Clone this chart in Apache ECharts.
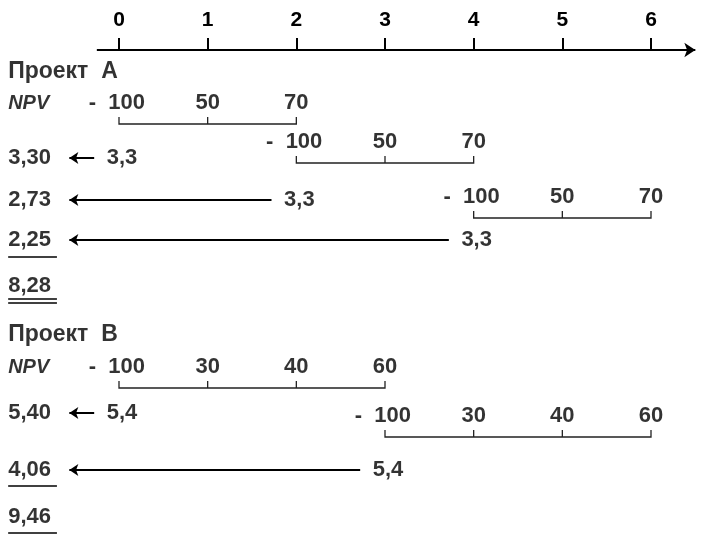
<!DOCTYPE html>
<html>
<head>
<meta charset="utf-8">
<script src="https://cdn.jsdelivr.net/npm/echarts@6/dist/echarts.min.js"></script>
<style>
html,body{margin:0;padding:0;background:#fff;}
#c{width:702px;height:537px;}
</style>
</head>
<body>
<div id="c"></div>
<script>
// ---- data ----
const years = [0, 1, 2, 3, 4, 5, 6];
const cashA = [-100, 50, 70];          // project A cash flows (one cycle)
const startsA = [0, 2, 4];             // start year of each repetition of A
const npvA = 3.3;                      // NPV of one cycle of A
const pvA = [3.30, 2.73, 2.25];        // discounted NPV of each repetition
const totalA = 8.28;

const cashB = [-100, 30, 40, 60];      // project B cash flows (one cycle)
const startsB = [0, 3];
const npvB = 5.4;
const pvB = [5.40, 4.06];
const totalB = 9.46;

// ---- layout (row positions in "line" units, 1 unit = 20px) ----
const layA = {title: 1.1, npv: 2.65, brackets: [3.7, 5.65, 8.4], pv: [5.4, 7.5, 9.5], total: 11.8,
              under: [10.35], dbl: [12.45, 12.65]};
const layB = {title: 14.25, npv: 15.85, brackets: [16.9, 19.35], pv: [18.15, 21], total: 23.35,
              under: [21.8, 24.15], dbl: []};
const LEFT_X = -1.25, UNDER_END = -0.70, TIP_X = -0.56, TICK_H = 0.35, ARROW_GAP = 0.28;

const fmt = (v, d) => v.toFixed(d).replace('.', ',');
const FONT = 'Liberation Sans, Arial, sans-serif';
const FS = 22;

function buildProject(cash, starts, npv, pv, total, lay, title) {
  const brackets = [], cashLabels = [], negLabels = [], arrows = [], npvLabels = [], leftLabels = [], underlines = [];
  const n = cash.length - 1;
  starts.forEach((s, k) => {
    const yb = lay.brackets[k];
    brackets.push({coords: [[s, yb - TICK_H], [s, yb], [s + n, yb], [s + n, yb - TICK_H]]});
    for (let i = 1; i < n; i++) brackets.push({coords: [[s + i, yb], [s + i, yb - TICK_H]]});
    cash.forEach((c, i) => {
      if (c < 0) negLabels.push([s + i, yb, '-  ' + Math.abs(c)]);
      else cashLabels.push([s + i, yb, String(c)]);
    });
  });
  starts.forEach((s, k) => {
    const y = lay.pv[k];
    arrows.push({coords: [[s - ARROW_GAP, y], [TIP_X, y]]});
    npvLabels.push([s, y, fmt(npv, 1)]);
    leftLabels.push([LEFT_X, y, fmt(pv[k], 2)]);
  });
  leftLabels.push([LEFT_X, lay.total, fmt(total, 2)]);
  lay.under.concat(lay.dbl).forEach(y => underlines.push({coords: [[LEFT_X, y], [UNDER_END, y]]}));
  const titleLabel = [[LEFT_X, lay.title, title]];
  const npvHead = [[LEFT_X, lay.npv, 'NPV']];
  return {brackets, cashLabels, negLabels, arrows, npvLabels, leftLabels, underlines, titleLabel, npvHead};
}

const A = buildProject(cashA, startsA, npvA, pvA, totalA, layA, 'Проект  А');
const B = buildProject(cashB, startsB, npvB, pvB, totalB, layB, 'Проект  В');
const all = k => A[k].concat(B[k]);

function textSeries(data, label) {
  return {
    type: 'scatter', data: data, symbolSize: 0, clip: false, silent: true,
    label: Object.assign({show: true, color: '#000', fontFamily: FONT, fontSize: FS, fontWeight: 'bold',
      formatter: p => p.value[2]}, label)
  };
}

const chart = echarts.init(document.getElementById('c'), null, {renderer: 'canvas'});
chart.setOption({
  backgroundColor: '#fff',
  animation: false,
  grid: {left: 119, right: 51, top: 50, bottom: 0},
  xAxis: {
    type: 'value', position: 'top', min: 0, max: 6, interval: 1,
    axisLine: {show: true, lineStyle: {color: '#000', width: 2}},
    axisTick: {show: true, length: 12, lineStyle: {color: '#000', width: 2}},
    axisLabel: {show: true, color: '#000', fontSize: 21, fontWeight: 'bold', fontFamily: FONT, margin: 19,
      formatter: v => years.indexOf(v) >= 0 ? String(v) : ''},
    splitLine: {show: false}
  },
  yAxis: {type: 'value', inverse: true, min: 0, max: 24.35, show: false},
  series: [
    // main time axis with arrow
    {type: 'lines', coordinateSystem: 'cartesian2d', clip: false, silent: true,
     symbol: ['none', 'arrow'], symbolSize: 11,
     lineStyle: {color: '#000', width: 2, opacity: 1},
     data: [{coords: [[-0.25, 0], [6.5, 0]]}]},
    // brackets
    {type: 'lines', coordinateSystem: 'cartesian2d', polyline: true, clip: false, silent: true,
     lineStyle: {color: '#222', width: 1.3, opacity: 1},
     data: all('brackets')},
    // discount arrows
    {type: 'lines', coordinateSystem: 'cartesian2d', clip: false, silent: true,
     symbol: ['none', 'arrow'], symbolSize: 9,
     lineStyle: {color: '#000', width: 2, opacity: 1},
     data: all('arrows')},
    // underlines
    {type: 'lines', coordinateSystem: 'cartesian2d', clip: false, silent: true,
     lineStyle: {color: '#000', width: 1.6, opacity: 1},
     data: all('underlines')},
    // cash flow labels (positive)
    textSeries(all('cashLabels'), {position: 'inside', offset: [0, -21]}),
    // cash flow labels (negative)
    textSeries(all('negLabels'), {position: 'left', distance: 0, offset: [26, -21]}),
    // NPV values at start of each cycle
    textSeries(all('npvLabels'), {position: 'inside', offset: [3, 0]}),
    // left column numbers
    textSeries(all('leftLabels'), {position: 'right', distance: 0}),
    // project titles
    textSeries(all('titleLabel'), {position: 'right', distance: 0, fontSize: 23}),
    // NPV headers
    textSeries(all('npvHead'), {position: 'right', distance: 0, fontStyle: 'italic', fontSize: 20})
  ]
});
</script>
</body>
</html>
